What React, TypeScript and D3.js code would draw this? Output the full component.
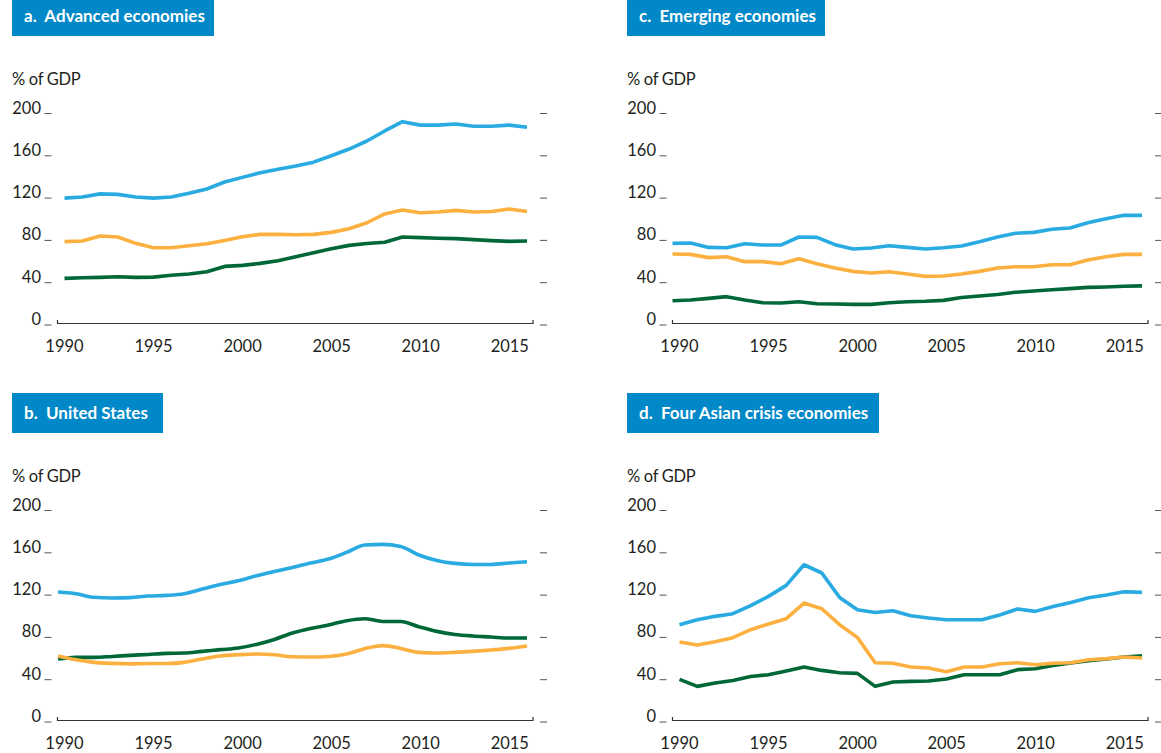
import React from "react";
import * as d3 from "d3";

const years: number[] = [1990,1991,1992,1993,1994,1995,1996,1997,1998,1999,2000,2001,2002,2003,2004,2005,2006,2007,2008,2009,2010,2011,2012,2013,2014,2015,2016];
const yTicks: number[] = [0, 40, 80, 120, 160, 200];
const xTicks: number[] = [1990, 1995, 2000, 2005, 2010, 2015];
const unitLabel = "% of GDP";

// a. Advanced economies
const advBlue = [120,121,124,123.5,121,120,121,124.5,128.6,135.2,139.6,144,147.2,150.4,154,160,166.4,174,183.5,192.3,189,189,190,188,188,189,187];
const advOrange = [78.8,79.4,84.2,83.2,77.2,73.1,73.1,75,76.9,80,83.5,85.7,85.7,85.4,85.7,87.6,91,96.7,105,108.7,106.2,106.8,108.4,106.8,107.4,109.7,107.4];
const advGreen = [44.1,44.7,45,45.6,45,45.3,47,48.2,50.4,55.4,56.4,58.3,60.8,64.6,68.4,72.2,75.3,77,78.2,83.2,82.6,82,81.7,80.7,79.8,79.1,79.4];

// b. United States
const usBlue = [122.9,121.3,117.9,117.3,117.6,119.1,119.7,121.3,125.7,130.1,133.6,138.3,142.4,146.2,150.3,154.1,160.4,167.4,168,166,157.9,152.8,150,149,149,150.3,151.6];
const usOrange = [62.5,58.9,56.4,55.4,55,55.3,55.3,56.4,59.6,62.4,63.6,64.3,63.6,61.7,61.4,62,64.3,69.3,72.2,69.6,65.8,65.2,65.8,66.8,68.1,69.6,71.9];
const usGreen = [59.6,61.1,61.1,62,63,63.9,64.9,65.2,66.8,68.4,70,73.4,78.1,84.2,88.5,91.7,95.8,97.7,95.1,95.1,90.1,85.7,82.8,81.3,80.4,79.4,79.4];

// c. Emerging economies
const emBlue = [77.2,77.6,73.4,73.1,76.9,75.6,75.6,83.2,82.9,76,71.9,72.8,75,73.4,71.9,73.1,74.7,78.8,83.2,86.7,87.6,90.5,91.7,96.7,100.5,103.7,103.7];
const emOrange = [67.1,66.8,63.7,64.6,59.9,59.9,58,62.7,58,53.9,50.7,49.2,50.4,48.2,46,46.3,48.2,50.7,53.9,55.1,55.1,57,57,61.5,64.6,66.8,66.8];
const emGreen = [23,23.6,25.2,26.8,23.6,21.1,20.8,22,20.1,19.9,19.5,19.5,21.1,22,22.4,23.3,26,27.5,28.8,30.9,32.2,33.4,34.4,35.6,36,36.6,37];

// d. Four Asian crisis economies
const asBlue = [92,96.7,99.9,102.4,110,118.8,129.2,148.7,140.9,117.8,106.2,103.6,105.2,100.5,98.3,96.7,96.7,96.7,101.2,106.8,104.6,109.3,113.1,117.5,120.1,123.2,122.6];
const asOrange = [75.6,72.8,75.9,79.7,87.3,92.7,97.7,112.5,107.1,92,80,56.1,55.5,52,51.1,47.6,52,52,55.1,56.1,54.2,55.5,56.1,58.9,59.9,61.5,60.5];
const asGreen = [40.3,33.7,36.9,39.3,43.1,44.7,48.2,52,48.8,46.6,46,33.7,37.8,38.4,38.8,40.7,44.7,44.7,44.7,49.5,50.4,53.5,55.8,58,59.6,61.5,62.7];

const BLUE = "#29abe2";
const ORANGE = "#fbb040";
const GREEN = "#006837";
const TITLE_BG = "#0088c8";
const FONT = "Lato, 'Noto Sans', sans-serif";

type Panel = {
  title: string;
  ox: number;
  oy: number;
  lineStart: number;
  smooth: boolean;
  series: { values: number[]; color: string }[];
  titleWidth: number;
};

const panels: Panel[] = [
  { title: "a.\u00a0 Advanced economies", ox: 0, oy: 0, lineStart: 64.5, smooth: false, titleWidth: 202,
    series: [{ values: advGreen, color: GREEN }, { values: advOrange, color: ORANGE }, { values: advBlue, color: BLUE }] },
  { title: "b.\u00a0 United States", ox: 0, oy: 397, lineStart: 58, smooth: true, titleWidth: 151,
    series: [{ values: usGreen, color: GREEN }, { values: usOrange, color: ORANGE }, { values: usBlue, color: BLUE }] },
  { title: "c.\u00a0 Emerging economies", ox: 615, oy: 0, lineStart: 57.5, smooth: false, titleWidth: 198,
    series: [{ values: emGreen, color: GREEN }, { values: emOrange, color: ORANGE }, { values: emBlue, color: BLUE }] },
  { title: "d.\u00a0 Four Asian crisis economies", ox: 615, oy: 397, lineStart: 64.5, smooth: false, titleWidth: 252,
    series: [{ values: asGreen, color: GREEN }, { values: asOrange, color: ORANGE }, { values: asBlue, color: BLUE }] },
];

function PanelView({ p }: { p: Panel }) {
  const y = d3.scaleLinear().domain([0, 200]).range([325 + p.oy, 113.5 + p.oy]);
  const xLab = d3.scaleLinear().domain([1990, 2015]).range([64.5 + p.ox, 509.8 + p.ox]);
  const xLine = d3.scaleLinear().domain([1990, 2016]).range([p.lineStart + p.ox, 527 + p.ox]);
  const line = d3
    .line<number>()
    .x((_, i) => xLine(years[i]))
    .y((v) => y(v))
    .curve(p.smooth ? d3.curveMonotoneX : d3.curveLinear);
  const axisY = y(0) - 1.5;
  const axL = 57.5 + p.ox;
  const axR = 533 + p.ox;
  return (
    <g>
      <rect x={12 + p.ox} y={p.oy - 4} width={p.titleWidth} height={40} fill={TITLE_BG} />
      <text x={24 + p.ox} y={p.oy + 22} fill="#fff" fontFamily={FONT} fontWeight={700} fontSize={17}>
        {p.title}
      </text>
      <text x={12 + p.ox} y={p.oy + 85} fill="#231f20" fontFamily={FONT} fontSize={16.5} letterSpacing={-0.3}>
        {unitLabel}
      </text>
      {yTicks.map((t) => (
        <g key={t}>
          <text x={41 + p.ox} y={y(t)} textAnchor="end" fill="#231f20" fontFamily={FONT} fontSize={16.5}>
            {t}
          </text>
          <line x1={44.5 + p.ox} x2={51.5 + p.ox} y1={y(t)} y2={y(t)} stroke="#555" strokeWidth={1} />
          <line x1={540 + p.ox} x2={547 + p.ox} y1={y(t)} y2={y(t)} stroke="#555" strokeWidth={1} />
        </g>
      ))}
      <path
        d={`M${axL},${axisY - 3.5}V${axisY}H${axR}V${axisY - 3.5}`}
        fill="none"
        stroke="#333"
        strokeWidth={1.2}
      />
      {xTicks.map((t) => (
        <text key={t} x={xLab(t)} y={351.5 + p.oy} textAnchor="middle" fill="#231f20" fontFamily={FONT} fontSize={16.5}>
          {t}
        </text>
      ))}
      {p.series.map((s, i) => (
        <path
          key={i}
          d={line(s.values) || ""}
          fill="none"
          stroke={s.color}
          strokeWidth={3.6}
          strokeLinejoin="round"
          strokeLinecap="butt"
        />
      ))}
    </g>
  );
}

export default function App() {
  return (
    <svg
      width={1161}
      height={753}
      style={{ position: "absolute", left: 0, top: 0, background: "#fff" }}
    >
      {panels.map((p) => (
        <PanelView key={p.title} p={p} />
      ))}
    </svg>
  );
}
